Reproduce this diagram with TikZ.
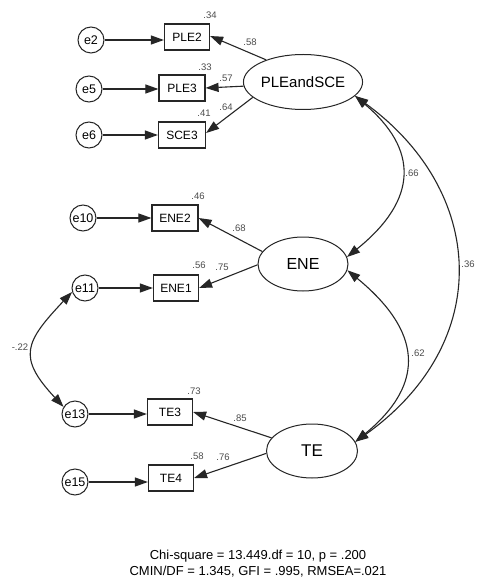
\documentclass[tikz,border=0pt]{standalone}
\usepackage{fontspec}
\setmainfont{Liberation Sans}
\usetikzlibrary{arrows.meta,shapes.geometric}
\tikzset{
  tip/.tip={Triangle[length=13pt,width=9pt]},
  lat/.style={draw=black!85, line width=1pt, ellipse, inner sep=0pt, minimum width=90pt, minimum height=54pt, font=\fontsize{16}{16}\selectfont},
  obs/.style={draw=black!85, line width=1.2pt, rectangle, inner sep=0pt, minimum width=45pt, minimum height=26pt, font=\fontsize{12}{12}\selectfont},
  err/.style={draw=black!85, line width=1pt, circle, inner sep=0pt, minimum size=26pt, font=\fontsize{12.5}{12.5}\selectfont},
  coef/.style={text=black!70, font=\fontsize{9.5}{9.5}\selectfont, inner sep=0pt},
  load/.style={draw=black!85, line width=1.1pt, -tip},
  cov/.style={draw=black!85, line width=1.1pt, tip-tip},
  fitstat/.style={font=\fontsize{13}{16}\selectfont, align=center}
}
\begin{document}
\begin{tikzpicture}[x=1pt,y=-1pt]
\useasboundingbox (0,0) rectangle (478,585);
\fill[white] (0,0) rectangle (478,585);

% latent factors
\node[lat, minimum width=90pt, minimum height=55pt, font=\fontsize{15}{15}\selectfont] (F1) at (303,82) {PLEandSCE};
\node[lat] (F2) at (303,264) {ENE};
\node[lat, minimum width=91pt, font=\fontsize{17}{17}\selectfont] (F3) at (312,451) {TE};

% indicators
\node[obs] (PLE2) at (187,37) {PLE2};
\node[obs, minimum width=46pt] (PLE3) at (182,88) {PLE3};
\node[obs, minimum width=47pt] (SCE3) at (182,135) {SCE3};
\node[obs, minimum width=46pt] (ENE2) at (175,218) {ENE2};
\node[obs] (ENE1) at (176,288) {ENE1};
\node[obs] (TE3) at (170,412) {TE3};
\node[obs] (TE4) at (171,478) {TE4};

% error terms
\node[err] (e2) at (91,40) {e2};
\node[err] (e5) at (89,89) {e5};
\node[err] (e6) at (89,135) {e6};
\node[err] (e10) at (83,218) {e10};
\node[err] (e11) at (85,288) {e11};
\node[err] (e13) at (75,414) {e13};
\node[err] (e15) at (75,482) {e15};

% error paths
\draw[load] (e2) -- (e2 -| PLE2.west);
\draw[load] (e5) -- (e5 -| PLE3.west);
\draw[load] (e6) -- (e6 -| SCE3.west);
\draw[load] (e10) -- (e10 -| ENE2.west);
\draw[load] (e11) -- (e11 -| ENE1.west);
\draw[load] (e13) -- (e13 -| TE3.west);
\draw[load] (e15) -- (e15 -| TE4.west);

% factor loadings
\draw[load] (F1.149) -- ([yshift=1pt]PLE2.east);
\draw[load] (F1.184) -- (PLE3.east);
\draw[load] (F1.197) -- ([yshift=2pt]SCE3.east);
\draw[load] (F2.163) -- (ENE2.east);
\draw[load] (F2.181) -- (ENE1.east);
\draw[load] (F3.162) -- (TE3.east);
\draw[load] (F3.183) -- (TE4.east);

% covariances
\draw[cov] (F1.-15) .. controls (418,149) and (419,199) .. (F2.9);
\draw[cov] (F1.-15) .. controls (486,191) and (495,342) .. (F3.12);
\draw[cov] (F2.-8) .. controls (420,330) and (428,382) .. (F3.12);
\draw[cov] (e11.197) .. controls (25,342) and (17,357) .. (e13.148);

% squared multiple correlations
\node[coef] (r1) at (210,15) {.34};
\node[coef] (r2) at (205,67) {.33};
\node[coef] (r3) at (204,113) {.41};
\node[coef] (r4) at (198,196) {.46};
\node[coef] (r5) at (199,265) {.56};
\node[coef] (r6) at (194,391) {.73};
\node[coef] (r7) at (197,456) {.58};

% loading estimates
\node[coef] (l1) at (250,42) {.58};
\node[coef] (l2) at (226,78) {.57};
\node[coef] (l3) at (226,107) {.64};
\node[coef] (l4) at (239,228) {.68};
\node[coef] (l5) at (222,267) {.75};
\node[coef] (l6) at (240,418) {.85};
\node[coef] (l7) at (223,457) {.76};

% correlation estimates
\node[coef] (c1) at (412,173) {.66};
\node[coef] (c2) at (468,264) {.36};
\node[coef] (c3) at (418,353) {.62};
\node[coef] (c4) at (20,347) {-.22};

% fit statistics
\node[fitstat] (stats) at (258,564) {Chi-square = 13.449.df = 10, p = .200\\CMIN/DF = 1.345, GFI = .995, RMSEA=.021};
\end{tikzpicture}
\end{document}
